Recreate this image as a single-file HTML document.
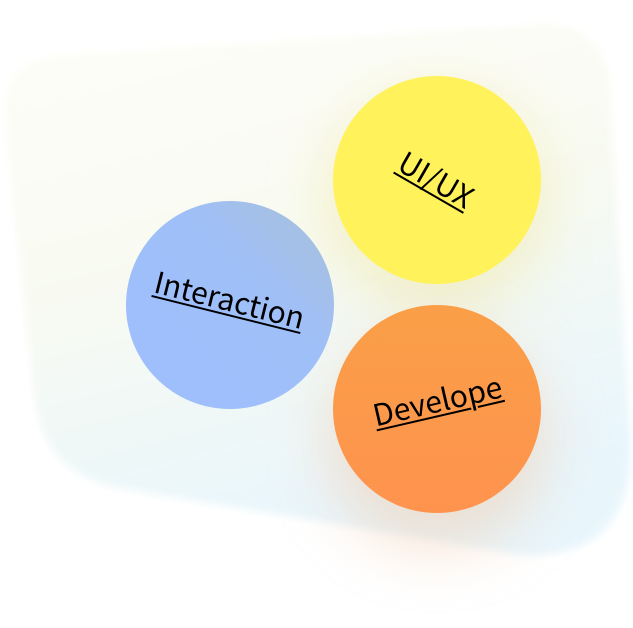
<!DOCTYPE html>
<html><head><style>
html,body{margin:0;padding:0;width:633px;height:628px;overflow:hidden;background:#fff}
.t{position:absolute;font-family:"Noto Sans CJK SC","DejaVu Sans",sans-serif;font-size:30px;line-height:36px;color:#000;text-decoration:underline;text-decoration-thickness:2px;text-underline-offset:3px;white-space:nowrap;transform-origin:center center}
</style></head><body>
<svg width="633" height="628" style="position:absolute;left:0;top:0">
<defs>
<linearGradient id="bg" x1="0" y1="0" x2="0.3" y2="1">
<stop offset="0" stop-color="#fefef8"/>
<stop offset="0.5" stop-color="#f8faf2"/>
<stop offset="1" stop-color="#e8f6fc"/>
</linearGradient>
<filter id="b1" x="-50%" y="-50%" width="200%" height="200%"><feGaussianBlur stdDeviation="30"/></filter>
<filter id="b2" x="-50%" y="-50%" width="200%" height="200%"><feGaussianBlur stdDeviation="4"/></filter>
<linearGradient id="blue" x1="1" y1="0" x2="0" y2="1"><stop offset="0" stop-color="#a8c0d8"/><stop offset="0.4" stop-color="#9fbff8"/><stop offset="1" stop-color="#9ebffe"/></linearGradient>
<linearGradient id="org" x1="0" y1="0" x2="0" y2="1"><stop offset="0" stop-color="#fa9f48"/><stop offset="1" stop-color="#fe934e"/></linearGradient>
</defs>
<path d="M60,55 L540,25 Q605,22 610,90 L630,430 Q640,560 520,555 L120,488 Q45,475 35,400 L5,120 Q0,60 60,55 Z" fill="url(#bg)" filter="url(#b2)"/>
<circle cx="437" cy="200" r="110" fill="#f0e8a8" opacity="0.6" filter="url(#b1)"/>
<circle cx="437" cy="440" r="110" fill="#f0c8a8" opacity="0.5" filter="url(#b1)"/>
<circle cx="230" cy="305" r="104" fill="url(#blue)"/>
<circle cx="437" cy="180" r="104" fill="#fff25a"/>
<circle cx="437" cy="409" r="104" fill="url(#org)"/>
</svg>
<div class="t" style="left:120px;top:280px;width:220px;text-align:center;transform:rotate(14deg)">Interaction</div>
<div class="t" style="left:362px;top:160px;width:150px;text-align:center;transform:rotate(30deg)">UI/UX</div>
<div class="t" style="left:352px;top:381px;width:170px;text-align:center;transform:rotate(-13deg)">Develope</div>
</body></html>
